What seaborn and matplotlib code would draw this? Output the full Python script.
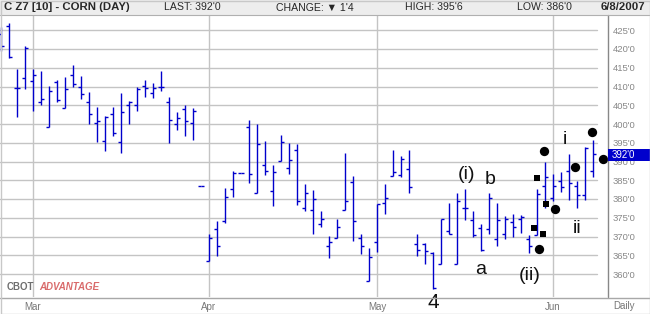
import matplotlib
matplotlib.use("Agg")
import matplotlib.pyplot as plt
from matplotlib.patches import Rectangle
from matplotlib.lines import Line2D
import seaborn as sns
import pandas as pd

# ---------------- data ----------------
opens = [424.0, 426.1, 409.5, 412.4, 411.6, 405.9, 399.1, 411.1, 404.4, 413.0,
         410.0, 406.0, 400.4, 395.6, 402.8, 395.1, 405.1, 405.1, 410.1, 408.2,
         409.8, 406.0, 399.9, 403.9, 400.2, 383.5, 363.5, 371.9, 374.1, 382.6,
         387.0, 399.3, 381.5, 389.0, 382.1, 390.1, 388.4, 393.1, 377.5, 377.1,
         373.3, 367.6, 369.5, 377.0, 384.5, 369.6, 358.1, 368.5, 378.9, 386.1,
         386.4, 387.9, 367.9, 367.9, 365.5, 362.8, 371.4, 362.8, 377.5, 374.4,
         372.4, 371.9, 369.4, 370.7, 373.9, 374.8, 369.3, 370.3, 383.4, 380.2,
         384.7, 387.4, 383.6, 381.0, 387.4]
highs = [426.0, 426.9, 414.7, 420.8, 414.7, 414.1, 410.1, 411.7, 412.5, 415.7,
         412.8, 408.5, 404.5, 402.1, 404.5, 408.3, 406.2, 409.9, 411.7, 410.9,
         414.1, 407.2, 403.2, 405.1, 404.4, 383.5, 370.7, 374.1, 382.9, 387.4,
         387.0, 401.1, 400.0, 395.5, 389.1, 397.1, 394.9, 394.8, 384.0, 382.4,
         376.8, 370.1, 374.7, 392.3, 386.1, 370.7, 367.0, 378.7, 384.0, 393.1,
         391.4, 393.0, 370.8, 368.3, 365.8, 374.8, 379.0, 381.7, 382.6, 376.9,
         373.3, 381.5, 379.0, 375.4, 376.0, 375.8, 370.5, 382.8, 389.8, 386.8,
         387.2, 392.1, 384.9, 394.0, 395.75]
lows = [419.6, 417.7, 402.0, 409.3, 403.6, 405.2, 399.1, 405.9, 404.4, 410.0,
        406.6, 399.9, 395.3, 392.9, 396.9, 392.4, 399.9, 403.6, 407.3, 407.0,
        408.8, 395.0, 398.5, 396.9, 395.8, 383.5, 363.5, 364.9, 373.5, 380.6,
        387.0, 384.4, 381.5, 386.4, 378.2, 390.1, 386.7, 378.5, 376.8, 370.8,
        372.5, 364.4, 369.5, 377.0, 368.9, 365.4, 358.1, 366.0, 375.9, 386.1,
        385.8, 381.7, 364.9, 362.8, 355.9, 362.8, 370.6, 362.8, 374.4, 369.9,
        366.2, 370.6, 367.6, 369.3, 370.0, 371.0, 365.6, 370.3, 377.6, 379.4,
        382.0, 379.8, 377.6, 379.8, 386.0]
closes = [420.8, 417.9, 409.5, 420.2, 413.2, 406.8, 408.7, 406.5, 409.3, 410.8,
          407.9, 402.8, 400.7, 401.8, 397.5, 403.1, 406.0, 409.3, 409.5, 409.6,
          409.8, 401.2, 401.5, 400.7, 403.6, 383.5, 369.6, 367.4, 380.5, 387.0,
          387.0, 386.7, 394.7, 387.6, 387.1, 395.1, 390.3, 379.5, 381.5, 379.9,
          374.7, 368.5, 372.5, 379.5, 374.1, 367.4, 364.5, 378.7, 380.3, 387.2,
          390.6, 383.1, 366.4, 366.1, 356.4, 374.6, 370.8, 379.5, 377.5, 370.4,
          366.4, 380.2, 374.3, 374.8, 372.5, 375.2, 367.4, 381.4, 385.9, 383.4,
          383.2, 384.3, 381.2, 393.6, 392.0]

month_labels = ["Mar", "Apr", "May", "Jun"]
month_index = [4, 26, 47, 69]          # trading-day index of first day of month
price_ticks = list(range(360, 430, 5))

circle_x = [67.9, 73.9, 71.7, 69.2, 67.2, 75.3]
circle_y = [392.9, 397.9, 388.5, 377.3, 366.6, 390.6]
square_x = [67.0, 68.1, 66.6, 67.8]
square_y = [385.5, 378.6, 372.2, 370.6]

wave_labels = ["(i)", "b", "a", "(ii)", "i", "ii", "4"]
wave_x = [58.2, 61.1, 59.9, 66.1, 70.5, 72.0, 54.0]
wave_y = [386.6, 385.3, 361.1, 359.7, 395.9, 372.2, 352.3]

last_price = 392.0
header_title = "C Z7 [10] - CORN (DAY)"
header_last = "LAST: 392'0"
header_change = "CHANGE: \u25bc 1'4"
header_high = "HIGH: 395'6"
header_low = "LOW: 386'0"
header_date = "6/8/2007"

# ---------------- style ----------------
sns.set_theme(style="white")
plt.rcParams['font.family'] = ['Liberation Sans', 'DejaVu Sans']

W, H = 650, 314
fig = plt.figure(figsize=(W / 100, H / 100), dpi=100)
fig.patch.set_facecolor("white")

ax_left, ax_right, ax_top, ax_bottom = 0, 607, 15, 297
ax = fig.add_axes([ax_left / W, 1 - ax_bottom / H, (ax_right - ax_left) / W,
                   (ax_bottom - ax_top) / H])
ax.set_facecolor("white")

df = pd.DataFrame({"idx": range(len(opens)), "open": opens, "high": highs,
                   "low": lows, "close": closes})

bar_color = "#0000cc"
grid_color = "#c4c4c4"

# gridlines
for p in price_ticks:
    ax.axhline(p, xmin=0, xmax=597 / 607, color=grid_color, lw=1.0, zorder=0)
for m in month_index:
    ax.axvline(m, color=grid_color, lw=1.0, zorder=0)

# OHLC bars
tick = 0.42
ax.vlines(df["idx"], df["low"], df["high"], color=bar_color, lw=1.0, zorder=2)
ax.hlines(df["open"], df["idx"] - tick, df["idx"], color=bar_color, lw=1.0, zorder=2)
ax.hlines(df["close"], df["idx"], df["idx"] + tick, color=bar_color, lw=1.0, zorder=2)

# markers
sns.scatterplot(x=circle_x, y=circle_y, ax=ax, color="black", s=45, marker="o",
                linewidth=0, zorder=4, clip_on=False, legend=False)
sns.scatterplot(x=square_x, y=square_y, ax=ax, color="black", s=13, marker="s",
                linewidth=0, zorder=4, clip_on=False, legend=False)

# wave labels
for t, x, y in zip(wave_labels, wave_x, wave_y):
    ax.text(x, y, t, fontsize=15 if t == "4" else 14, color="#111111",
            ha="center", va="center", zorder=5, clip_on=False,
            family=['Liberation Sans', 'DejaVu Sans'])

ax.set_xlim((0 - 1) / 8, (607 - 1) / 8)
ax.set_ylim(400 - (297 - 124) / 3.75, 400 - (15 - 124) / 3.75)

# axes ticks
ax.yaxis.tick_right()
ax.set_yticks(price_ticks)
ax.set_yticklabels([f"{p}'0" for p in price_ticks])
ax.set_xticks(month_index)
ax.set_xticklabels(month_labels)
ax.tick_params(axis="y", length=0, pad=4, labelsize=6.8, labelcolor="#888888")
ax.tick_params(axis="x", length=0, pad=3.5, labelsize=7, labelcolor="#777777")
for s in ax.spines.values():
    s.set_visible(False)
ax.grid(False)

# frame lines
fig.add_artist(Line2D([607.5 / W, 607.5 / W], [1 - 297 / H, 1 - 15 / H],
                      color="#888888", lw=1.0))
fig.add_artist(Line2D([0, 1], [1 - 297.5 / H, 1 - 297.5 / H],
                      color="#a8a8a8", lw=1.0))

# header band
fig.add_artist(Rectangle((0, 1 - 14.5 / H), 1, 14.5 / H, transform=fig.transFigure,
                         facecolor="#ededed", edgecolor="none", zorder=1))
fig.add_artist(Line2D([0, 1], [1 - 14.8 / H, 1 - 14.8 / H], color="#b0b0b0", lw=0.8))
hy = 1 - 7.5 / H
fig.text(4 / W, hy, header_title, fontsize=8.2, fontweight="bold", va="center", ha="left")
fig.text(164 / W, hy, header_last, fontsize=7.6, va="center", ha="left")
fig.text(276 / W, hy, header_change, fontsize=7.6, va="center", ha="left")
fig.text(405 / W, hy, header_high, fontsize=7.6, va="center", ha="left")
fig.text(517 / W, hy, header_low, fontsize=7.6, va="center", ha="left")
fig.text(645 / W, hy, header_date, fontsize=8.2, fontweight="bold", va="center", ha="right")

# last price box
fig.add_artist(Rectangle((608 / W, 1 - 161 / H), 42 / W, 12 / H, transform=fig.transFigure,
                         facecolor=bar_color, edgecolor="none", zorder=2))
fig.text(612 / W, 1 - 155 / H, f"{int(last_price)}'0", fontsize=7, color="white",
         va="center", ha="left", zorder=3)

# bottom labels
fig.text(624 / W, 1 - 306 / H, "Daily", fontsize=7, color="#777777", va="center", ha="center")
fig.text(7 / W, 1 - 287 / H, "CBOT", fontsize=7, fontweight="bold", color="#6e6e6e",
         va="center", ha="left")
fig.text(39 / W, 1 - 287 / H, "ADVANTAGE", fontsize=7, fontweight="bold", style="italic",
         color="#d96b6b", va="center", ha="left")

# border
fig.add_artist(Rectangle((0.5 / W, 0.5 / H), 649 / W, 313 / H, transform=fig.transFigure,
                         facecolor="none", edgecolor="#c8c8c8", lw=1.0, zorder=5))

fig.savefig("out.png", dpi=100)
